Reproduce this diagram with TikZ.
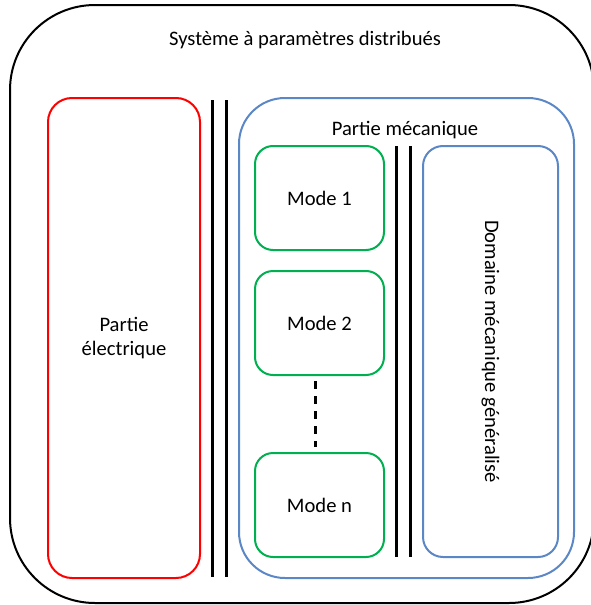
\documentclass[tikz,border=0pt]{standalone}
\usepackage{fontspec}
\setmainfont{Carlito}
\usepackage{xcolor}
\usetikzlibrary{positioning}
\definecolor{mecablue}{HTML}{5B87C6}
\definecolor{modegreen}{HTML}{00B050}
\tikzset{
    box/.style={rectangle, line width=2pt, align=center, inner sep=0pt,
        font=\fontsize{20.6}{24.5}\selectfont},
    outerbox/.style={box, draw=black, rounded corners=85pt},
    redbox/.style={box, draw=red, rounded corners=24pt},
    bluebox/.style={box, draw=mecablue, rounded corners=46pt},
    domainbox/.style={box, draw=mecablue, rounded corners=20pt},
    modebox/.style={box, draw=modegreen, rounded corners=18pt,
        minimum width=129pt, minimum height=104pt},
    label/.style={font=\fontsize{20.6}{24.5}\selectfont, inner sep=0pt},
    wall/.style={line width=3pt},
    dots/.style={line width=3pt, dash pattern=on 8pt off 7pt},
}
\begin{document}
\begin{tikzpicture}[x=1pt, y=-1pt]
    \clip (0,0) rectangle (591,605);
    \useasboundingbox (0,0) rectangle (591,605);
    % outer system
    \node[outerbox, minimum width=584pt, minimum height=598pt] (sys) at (302,304) {};
    \node[label] (systitle) at (305,40) {Système à paramètres distribués};
    % electrical part
    \node[redbox, minimum width=152pt, minimum height=480pt] (elec) at (124,338) {Partie\\électrique};
    \coordinate (wa1) at (212,100);
    \coordinate (wa2) at (212,577);
    \coordinate (wb1) at (226,100);
    \coordinate (wb2) at (226,577);
    \draw[wall] (wa1) -- (wa2);
    \draw[wall] (wb1) -- (wb2);
    % mechanical part
    \node[bluebox, minimum width=335pt, minimum height=480pt] (meca) at (406.5,338) {};
    \node[label] (mecatitle) at (405,130) {Partie mécanique};
    \node[modebox] (mode1) at (319.5,198) {Mode 1};
    \node[modebox, below=19pt of mode1] (mode2) {Mode 2};
    \node[modebox] (moden) at (319.5,505) {Mode n};
    \draw[dots, shorten <=5pt, shorten >=5pt] ([xshift=-4pt]mode2.south) -- ([xshift=-4pt]moden.north);
    \coordinate (wc1) at (396,146);
    \coordinate (wc2) at (396,557);
    \coordinate (wd1) at (410,146);
    \coordinate (wd2) at (410,557);
    \draw[wall] (wc1) -- (wc2);
    \draw[wall] (wd1) -- (wd2);
    \node[domainbox, minimum width=135pt, minimum height=411pt] (domain) at (490.5,351.5) {};
    \node[label, rotate=-90] (domaintext) at (domain.center) {Domaine mécanique généralisé};
\end{tikzpicture}
\end{document}
